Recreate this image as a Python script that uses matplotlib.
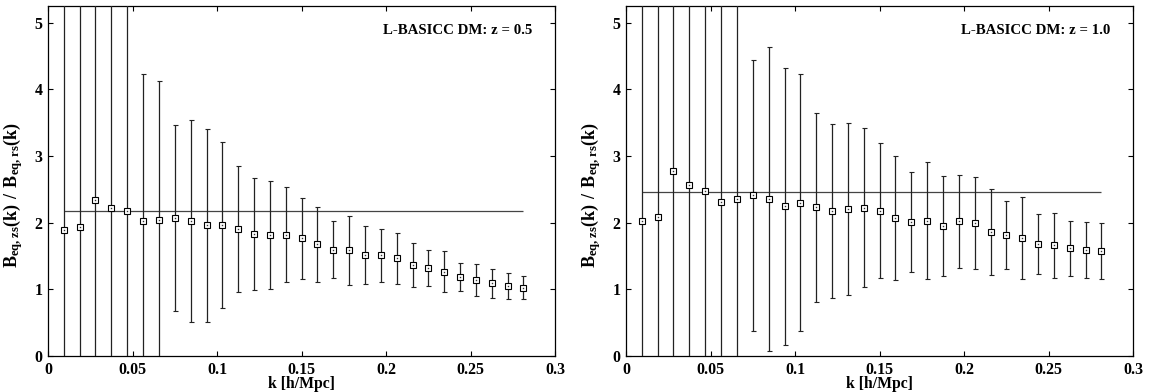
import matplotlib

matplotlib.use("Agg")
import matplotlib.pyplot as plt

plt.rcParams["font.family"] = ["Liberation Serif", "DejaVu Serif"]
plt.rcParams["font.weight"] = "bold"
plt.rcParams["mathtext.fontset"] = "custom"
plt.rcParams["mathtext.rm"] = "Liberation Serif"
plt.rcParams["mathtext.bf"] = "Liberation Serif:bold"

# bin centres in k [h/Mpc]
k = [0.0094, 0.0188, 0.0281, 0.0375, 0.0469, 0.0563, 0.0656, 0.0750, 0.0844, 0.0938,
     0.1032, 0.1125, 0.1219, 0.1313, 0.1407, 0.1500, 0.1594, 0.1688, 0.1782, 0.1876,
     0.1969, 0.2063, 0.2157, 0.2251, 0.2344, 0.2438, 0.2532, 0.2626, 0.2719, 0.2813]

# z = 0.5 ratio and 1-sigma errors
ratio_z05 = [1.885, 1.93, 2.335, 2.22, 2.17, 2.03, 2.035, 2.07, 2.025, 1.96,
             1.97, 1.91, 1.825, 1.82, 1.82, 1.765, 1.675, 1.595, 1.585, 1.515,
             1.51, 1.465, 1.365, 1.32, 1.265, 1.18, 1.14, 1.09, 1.05, 1.025]
err_z05 = [4.8, 4.4, 4.0, 3.6, 3.3, 2.195, 2.085, 1.39, 1.52, 1.445,
           1.245, 0.945, 0.84, 0.81, 0.715, 0.605, 0.565, 0.43, 0.515, 0.44,
           0.40, 0.385, 0.335, 0.27, 0.305, 0.21, 0.24, 0.22, 0.195, 0.175]
mean_z05 = 2.17

# z = 1.0 ratio and 1-sigma errors
ratio_z10 = [2.025, 2.09, 2.775, 2.565, 2.47, 2.305, 2.35, 2.41, 2.35, 2.245,
             2.30, 2.23, 2.175, 2.20, 2.225, 2.18, 2.075, 2.01, 2.03, 1.95,
             2.02, 1.99, 1.86, 1.815, 1.775, 1.68, 1.66, 1.615, 1.59, 1.575]
err_z10 = [5.0, 4.6, 4.2, 3.9, 3.6, 3.3, 3.0, 2.035, 2.28, 2.08,
           1.925, 1.42, 1.31, 1.29, 1.19, 1.01, 0.93, 0.75, 0.88, 0.755,
           0.70, 0.69, 0.645, 0.51, 0.615, 0.445, 0.49, 0.415, 0.425, 0.42]
mean_z10 = 2.46

panels = [
    (ratio_z05, err_z05, mean_z05, "L-BASICC DM: z = 0.5"),
    (ratio_z10, err_z10, mean_z10, "L-BASICC DM: z = 1.0"),
]

fig = plt.figure(figsize=(11.5, 3.92), dpi=100)
lefts = [48 / 1150, 626 / 1150]

for left, (ratio, err, mean, label) in zip(lefts, panels):
    ax = fig.add_axes([left, 36 / 392, 507 / 1150, 350 / 392])
    ax.errorbar(k, ratio, yerr=err, fmt="s", ms=4.4, mfc="white", mec="black",
                mew=0.8, ecolor="#222222", elinewidth=0.9, capsize=1.8,
                capthick=0.9, zorder=3)
    # small dot at the centre of each open square
    ax.plot(k, ratio, "s", ms=1.0, color="#333333", mew=0, zorder=4)
    ax.hlines(mean, k[0], k[-1], color="#444444", lw=0.9, zorder=2)

    ax.set_xlim(0, 0.3)
    ax.set_ylim(0, 5.25)
    ax.set_xticks([0, 0.05, 0.1, 0.15, 0.2, 0.25, 0.3])
    ax.set_xticklabels(["0", "0.05", "0.1", "0.15", "0.2", "0.25", "0.3"])
    ax.set_yticks([0, 1, 2, 3, 4, 5])
    ax.tick_params(direction="in", top=True, right=True, length=3.5, width=0.8,
                   labelsize=11.4, pad=4)
    for lbl in ax.get_xticklabels() + ax.get_yticklabels():
        lbl.set_fontweight("bold")
    for spine in ax.spines.values():
        spine.set_linewidth(0.9)

    ax.set_xlabel("k [h/Mpc]", fontsize=11.3, fontweight="bold", labelpad=-1)
    ax.set_ylabel(r"$\mathbf{B_{eq,zs}(k)\ /\ B_{eq,rs}(k)}$", fontsize=13)
    ax.yaxis.set_label_coords(-0.046, 0.46)
    ax.text(0.955, 0.931, label, transform=ax.transAxes, ha="right",
            va="center", fontsize=10.7, fontweight="bold")

fig.savefig("out.png", dpi=100)
